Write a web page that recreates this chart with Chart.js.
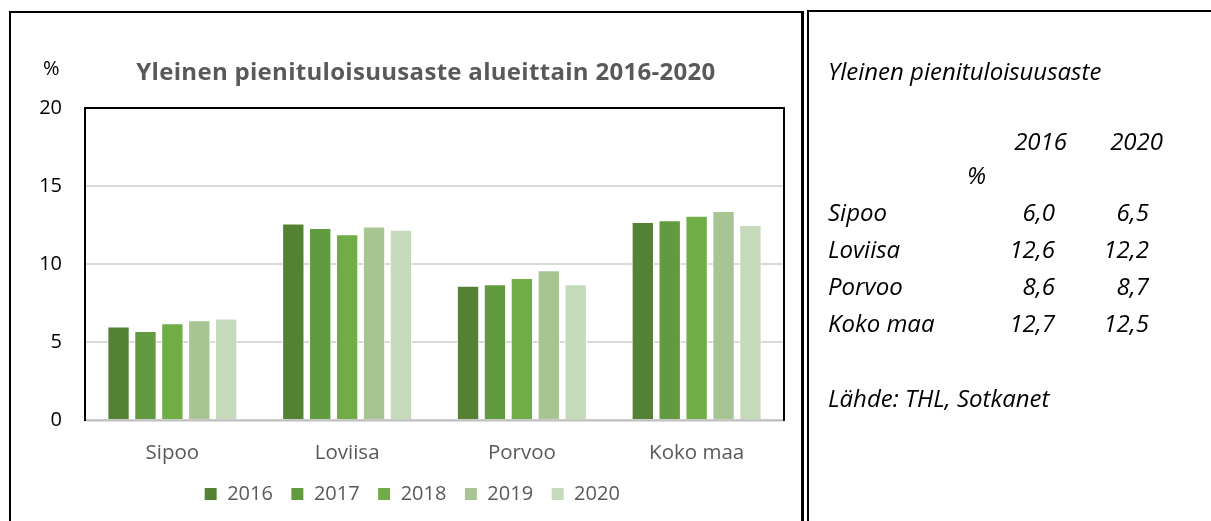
<!DOCTYPE html>
<html lang="fi">
<head>
  <meta charset="UTF-8" />
  <title>Yleinen pienituloisuusaste alueittain 2016-2020</title>
  <script src="https://cdn.jsdelivr.net/npm/chart.js"></script>
  <style>
    html, body {
      margin: 0;
      padding: 0;
      background: #fff;
      width: 1211px;
      height: 521px;
      overflow: hidden;
      font-family: "Open Sans", Lato, sans-serif;
    }
    .leftbox {
      position: absolute;
      left: 9px; top: 11px;
      width: 795px; height: 520px;
      box-sizing: border-box;
      border-left: 2px solid #000;
      border-top: 2px solid #000;
      border-right: 3px solid #000;
    }
    .rightbox {
      position: absolute;
      left: 807px; top: 10px;
      width: 420px; height: 520px;
      box-sizing: border-box;
      border-left: 2px solid #000;
      border-top: 2px solid #000;
    }
    #chart {
      position: absolute;
      left: 0; top: 0;
    }
    .title {
      position: absolute;
      left: 0; width: 852px;
      top: 55px;
      text-align: center;
      font-weight: bold;
      font-size: 24px;
      letter-spacing: 0.3px;
      line-height: 32px;
      color: #595959;
    }
    .unit {
      position: absolute;
      left: 43px; top: 55px;
      font-size: 20px;
      line-height: 25px;
      color: #000;
    }
    .side {
      position: absolute;
      font-style: italic;
      font-size: 24px;
      line-height: 24px;
      color: #000;
      white-space: nowrap;
    }
    .r { text-align: right; }
  </style>
</head>
<body>
  <div class="leftbox"></div>
  <div class="rightbox"></div>
  <canvas id="chart" width="1211" height="521"></canvas>
  <div class="title">Yleinen pienituloisuusaste alueittain 2016-2020</div>
  <div class="unit">%</div>
  <div id="side"></div>

  <script>
    // === data ===
    const regions = ["Sipoo", "Loviisa", "Porvoo", "Koko maa"];
    const years = ["2016", "2017", "2018", "2019", "2020"];
    const v2016 = [6.0, 12.6, 8.6, 12.7];
    const v2017 = [5.7, 12.3, 8.7, 12.8];
    const v2018 = [6.2, 11.9, 9.1, 13.1];
    const v2019 = [6.4, 12.4, 9.6, 13.4];
    const v2020 = [6.5, 12.2, 8.7, 12.5];
    const yTicks = [0, 5, 10, 15, 20];

    // side table
    const sideTitle = "Yleinen pienituloisuusaste";
    const tableYears = ["2016", "2020"];
    const tableRows = ["Sipoo", "Loviisa", "Porvoo", "Koko maa"];
    const table2016 = ["6,0", "12,6", "8,6", "12,7"];
    const table2020 = ["6,5", "12,2", "8,7", "12,5"];
    const source = "Lähde: THL, Sotkanet";

    const colors = ["#548235", "#629a3f", "#70ad47", "#a6c592", "#c5d9bb"];
    const series = [v2016, v2017, v2018, v2019, v2020];
    const font = { family: "Open Sans", size: 20 };

    // === frame round the plot area ===
    const plotFrame = {
      id: "plotFrame",
      afterDraw(chart) {
        const { ctx, chartArea: a } = chart;
        ctx.save();
        ctx.strokeStyle = "#bfbfbf";
        ctx.lineWidth = 2;
        ctx.beginPath();
        ctx.moveTo(a.left, a.bottom + 0.5);
        ctx.lineTo(a.right, a.bottom + 0.5);
        ctx.stroke();
        ctx.strokeStyle = "#000";
        ctx.lineWidth = 2;
        ctx.beginPath();
        ctx.moveTo(a.left, a.bottom + 1);
        ctx.lineTo(a.left, a.top);
        ctx.lineTo(a.right, a.top);
        ctx.lineTo(a.right, a.bottom + 1);
        ctx.stroke();
        ctx.restore();
      }
    };

    new Chart(document.getElementById("chart"), {
      type: "bar",
      data: {
        labels: regions,
        datasets: years.map((y, i) => ({
          label: y,
          data: series[i],
          backgroundColor: colors[i],
          borderColor: "#ffffff",
          borderWidth: 1,
          categoryPercentage: 0.77,
          barPercentage: 0.83
        }))
      },
      options: {
        responsive: false,
        animation: false,
        devicePixelRatio: 1,
        layout: { padding: { left: 40, right: 427, top: 108, bottom: 7 } },
        plugins: {
          tooltip: { enabled: false },
          legend: {
            position: "bottom",
            labels: {
              boxWidth: 13,
              boxHeight: 13,
              padding: 18,
              color: "#595959",
              font: font
            }
          }
        },
        scales: {
          x: {
            grid: { display: false, drawTicks: false },
            border: { display: false },
            ticks: {
              color: "#595959",
              padding: 21,
              font: { family: "Open Sans", size: 20.5 }
            },
            afterFit(s) { s.height = 46; }
          },
          y: {
            min: 0,
            max: 20,
            afterBuildTicks(s) { s.ticks = yTicks.map(v => ({ value: v })); },
            grid: { color: "#d9d9d9", lineWidth: 2, drawTicks: false },
            border: { display: false },
            ticks: {
              color: "#000",
              padding: 23,
              font: font
            },
            afterFit(s) { s.width = 45; }
          }
        }
      },
      plugins: [plotFrame]
    });

    // === side table ===
    const side = document.getElementById("side");
    function put(text, x, baseline, right) {
      const d = document.createElement("div");
      d.className = "side" + (right ? " r" : "");
      d.textContent = text;
      d.style.top = (baseline - 21) + "px";
      if (right) { d.style.left = (x - 100) + "px"; d.style.width = "100px"; }
      else d.style.left = x + "px";
      side.appendChild(d);
    }
    put(sideTitle, 828, 80, false);
    put(tableYears[0], 1067, 150, true);
    put(tableYears[1], 1163, 150, true);
    put("%", 967, 184, false);
    const rowBase = [221, 258, 295, 332];
    tableRows.forEach((r, i) => {
      put(r, 828, rowBase[i], false);
      put(table2016[i], 1055, rowBase[i], true);
      put(table2020[i], 1149, rowBase[i], true);
    });
    put(source, 828, 407, false);
  </script>
</body>
</html>
